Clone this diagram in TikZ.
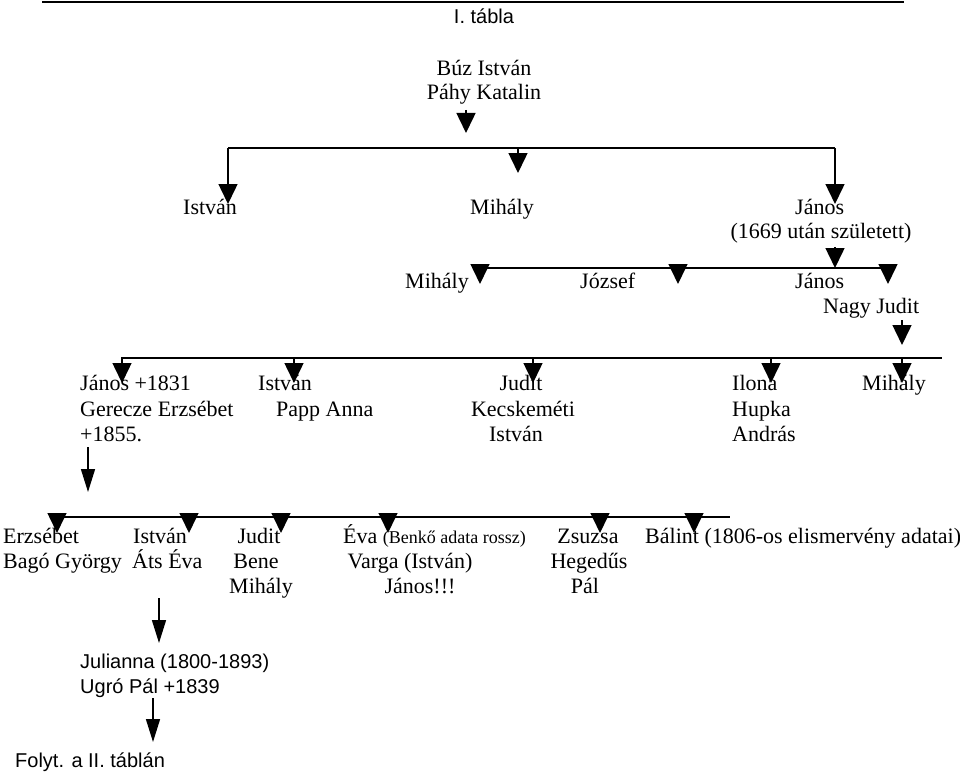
\documentclass[tikz,border=0pt]{standalone}
\usepackage{fontspec}
\setmainfont{Liberation Serif}
\newfontfamily\sansf{Liberation Sans}
\usetikzlibrary{arrows.meta}
\begin{document}
\begin{tikzpicture}[x=1pt,y=-1pt,
  every node/.style={inner sep=0pt, font=\fontsize{22}{25}\selectfont},
  sansnode/.style={font=\sansf\fontsize{20}{24}\selectfont},
  ln/.style={line width=1.5pt},
  arrW/.style={line width=1.5pt,-{Triangle[width=19pt,length=20pt]}},
  arrN/.style={line width=1.5pt,-{Triangle[width=14pt,length=23pt]}}]
\useasboundingbox (0,0) rectangle (960,773);
% top rule
\coordinate (ruleL) at (42,2); \coordinate (ruleR) at (904,2);
\draw[line width=2pt] (ruleL) -- (ruleR);
\node[sansnode,anchor=base] (title) at (484,24) {I. tábla};
% founders
\node[anchor=base] (buz) at (484,76) {Búz István};
\node[anchor=base] (pahy) at (484,100) {Páhy Katalin};
\coordinate (a0s) at (466,110); \coordinate (a0t) at (466,133);
\draw[arrW] (a0s) -- (a0t);
% generation 1
\coordinate (r1L) at (228,148); \coordinate (r1M) at (518,148); \coordinate (r1R) at (835,148);
\coordinate (t1L) at (228,204); \coordinate (t1M) at (518,173); \coordinate (t1R) at (835,204);
\draw[ln] (r1L) -- (r1R);
\draw[arrW] (r1L) -- (t1L);
\draw[arrW] (r1M) -- (t1M);
\draw[arrW] (r1R) -- (t1R);
\node[anchor=base west] (g1a) at (183,214) {István};
\node[anchor=base west] (g1b) at (470,214) {Mihály};
\node[anchor=base west] (g1c) at (795,214) {János};
\node[anchor=base] (g1c2) at (821,238) {(1669 után született)};
% generation 2
\coordinate (a2s) at (835,247); \coordinate (r2M) at (835,268);
\draw[arrW] (a2s) -- (r2M);
\coordinate (r2L) at (480,268); \coordinate (r2J) at (678,268); \coordinate (r2R) at (888,268);
\coordinate (t2L) at (480,284); \coordinate (t2J) at (678,284); \coordinate (t2R) at (888,284);
\draw[ln] (r2L) -- (r2R);
\draw[arrW] (r2L) -- (t2L);
\draw[arrW] (r2J) -- (t2J);
\draw[arrW] (r2R) -- (t2R);
\node[anchor=base west] (g2a) at (405,288) {Mihály};
\node[anchor=base west] (g2b) at (580,288) {József};
\node[anchor=base west] (g2c) at (795,288) {János};
\node[anchor=base west] (g2c2) at (823,313) {Nagy Judit};
% generation 3
\coordinate (a3s) at (902,320); \coordinate (a3t) at (902,345);
\draw[arrW] (a3s) -- (a3t);
\coordinate (r3L) at (121,358); \coordinate (r3E) at (942,358);
\draw[ln] (r3L) -- (r3E);
\foreach \x [count=\i] in {122,294,533,771,902}{
  \coordinate (r3t\i) at (\x,358); \coordinate (t3t\i) at (\x,383);
  \draw[arrW] (r3t\i) -- (t3t\i);
}
\node[anchor=base west] (g3a1) at (80,390) {János +1831};
\node[anchor=base west] (g3a2) at (80,416) {Gerecze Erzsébet};
\node[anchor=base west] (g3a3) at (80,441) {+1855.};
\node[anchor=base west] (g3b1) at (258,390) {István};
\node[anchor=base west] (g3b2) at (276,416) {Papp Anna};
\node[anchor=base] (g3c1) at (521,390) {Judit};
\node[anchor=base] (g3c2) at (523,416) {Kecskeméti};
\node[anchor=base] (g3c3) at (516,441) {István};
\node[anchor=base west] (g3d1) at (732,390) {Ilona};
\node[anchor=base west] (g3d2) at (732,416) {Hupka};
\node[anchor=base west] (g3d3) at (732,441) {András};
\node[anchor=base west] (g3e1) at (862,390) {Mihály};
% generation 4
\coordinate (a4s) at (88,447); \coordinate (a4t) at (88,492);
\draw[arrN] (a4s) -- (a4t);
\coordinate (r4L) at (57,517); \coordinate (r4E) at (730,517);
\draw[ln] (r4L) -- (r4E);
\foreach \x [count=\i] in {57,189,281,388,600,694}{
  \coordinate (r4t\i) at (\x,517); \coordinate (t4t\i) at (\x,533);
  \draw[arrW] (r4t\i) -- (t4t\i);
}
\node[anchor=base west] (g4a1) at (3,543) {Erzsébet};
\node[anchor=base west] (g4a2) at (3,568) {Bagó György};
\node[anchor=base west] (g4b1) at (133,543) {István};
\node[anchor=base west] (g4b2) at (132,568) {Áts Éva};
\node[anchor=base] (g4c1) at (259,543) {Judit};
\node[anchor=base] (g4c2) at (256,568) {Bene};
\node[anchor=base] (g4c3) at (261,593) {Mihály};
\node[anchor=base west] (g4d1) at (343,543) {Éva {\fontsize{18}{20}\selectfont(Benkő adata rossz)}};
\node[anchor=base] (g4d2) at (410,568) {Varga (István)};
\node[anchor=base] (g4d3) at (420,593) {János!!!};
\node[anchor=base] (g4e1) at (588,543) {Zsuzsa};
\node[anchor=base] (g4e2) at (589,568) {Hegedűs};
\node[anchor=base] (g4e3) at (585,593) {Pál};
\node[anchor=base west] (g4f1) at (645,543) {Bálint (1806-os elismervény adatai)};
% generation 5
\coordinate (a5s) at (159,598); \coordinate (a5t) at (159,643);
\draw[arrN] (a5s) -- (a5t);
\node[sansnode,anchor=base west] (g5a1) at (80,668) {Julianna (1800-1893)};
\node[sansnode,anchor=base west] (g5a2) at (80,693) {Ugró Pál +1839};
\coordinate (a6s) at (153,698); \coordinate (a6t) at (153,742);
\draw[arrN] (a6s) -- (a6t);
\node[sansnode,anchor=base west] (cont) at (15,767) {Folyt. a II. táblán};
\end{tikzpicture}
\end{document}
